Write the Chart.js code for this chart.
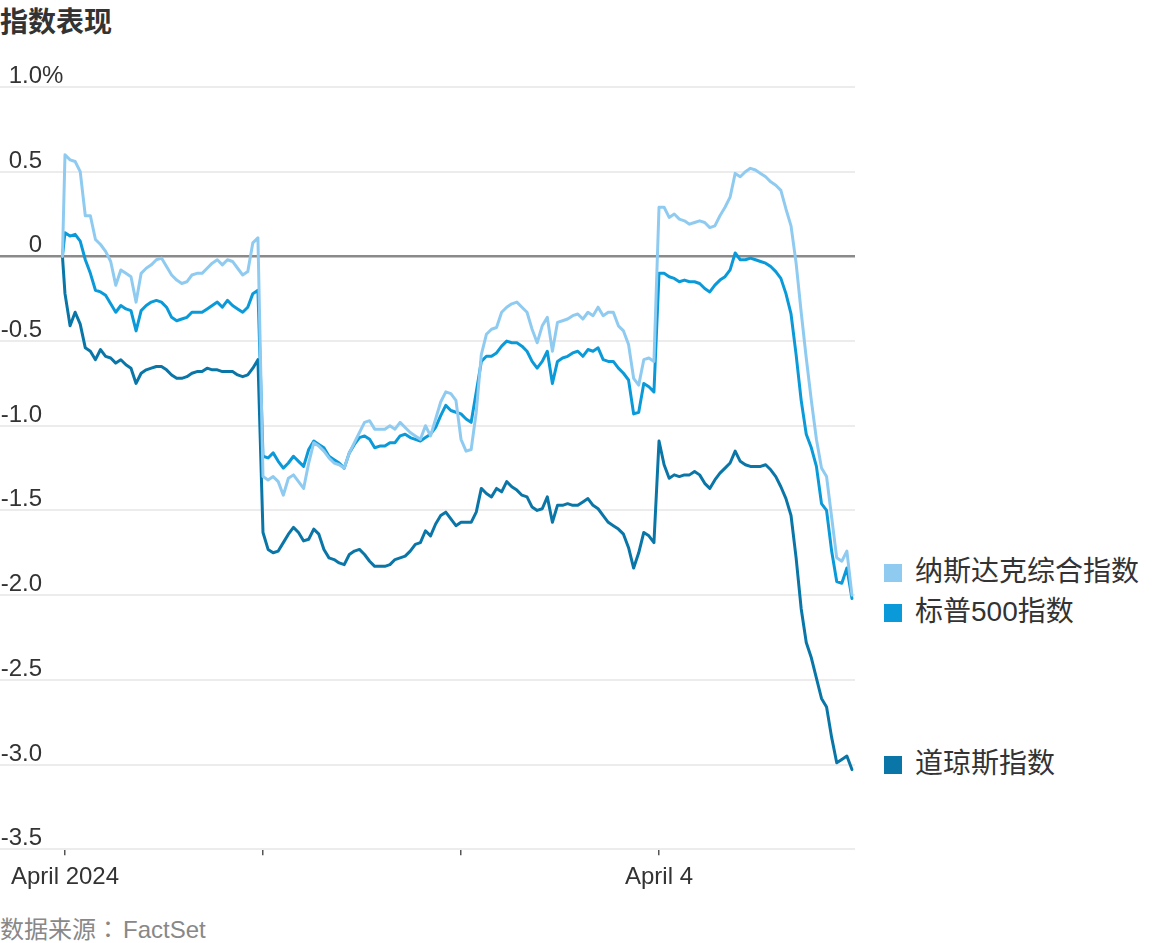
<!DOCTYPE html>
<html>
<head>
<meta charset="utf-8">
<script src="https://cdn.jsdelivr.net/npm/chart.js@4"></script>
<style>
  body { margin: 0; background: #fff; }
  #wrap { position: relative; width: 1170px; height: 943px; overflow: hidden; }
  .title { position: absolute; left: 0; top: 6px; margin: 0; font: bold 28px/1 "Noto Sans CJK SC", sans-serif; color: #333; }
  #chart { position: absolute; left: 0; top: 60px; }
  .legend { position: absolute; left: 884px; font: 28px/1 "Liberation Sans", "Noto Sans CJK SC", sans-serif; color: #333; white-space: nowrap; }
  .legend i { display: inline-block; width: 18px; height: 18px; margin-right: 13px; vertical-align: -1px; }
  .source { position: absolute; left: 0; top: 916px; font: 24px/1 "Liberation Sans", "Noto Sans CJK SC", sans-serif; color: #888; }
  .source span { font-family: "Noto Sans CJK JP", sans-serif; margin-right: 3px; }
</style>
</head>
<body>
<div id="wrap">
  <div class="title">指数表现</div>
  <canvas id="chart" width="856" height="850"></canvas>
  <div id="legend"></div>
  <div class="source">数据来源<span>：</span>FactSet</div>
</div>
<script>
// trading minutes from the April 1 open, one point every 10 minutes, days glued together
const stepMinutes = 10;
const pointsPerDay = 39;
const tradingDays = 4;
const xTickValues = [0, 390, 780, 1170];
const xTickLabels = ['April 2024', '', '', 'April 4'];

const seriesNames = ['纳斯达克综合指数', '标普500指数', '道琼斯指数'];
const seriesColors = ['#8fcbf0', '#0b9ad9', '#0a76a8'];
const legendTops = [558, 598, 750];

// % change vs previous close; first value is the previous close
const nasdaq = [0,
  0.60, 0.57, 0.56, 0.50, 0.24, 0.24, 0.10, 0.07, 0.03, -0.03, -0.17, -0.08, -0.10, -0.12, -0.27, -0.10, -0.07, -0.05, -0.02, -0.01,
  -0.06, -0.11, -0.14, -0.16, -0.15, -0.11, -0.10, -0.10, -0.07, -0.04, -0.02, -0.05, -0.02, -0.03, -0.07, -0.11, -0.09, 0.08, 0.11,
  -1.30, -1.32, -1.30, -1.33, -1.41, -1.31, -1.29, -1.33, -1.37, -1.22, -1.10, -1.12, -1.15, -1.19, -1.22, -1.23, -1.25, -1.16, -1.10, -1.04,
  -0.98, -0.97, -1.02, -1.02, -1.02, -1.00, -1.02, -0.98, -1.01, -1.04, -1.06, -1.08, -1.00, -1.06, -0.96, -0.86, -0.80, -0.81, -0.85,
  -1.08, -1.15, -1.14, -0.92, -0.58, -0.46, -0.43, -0.42, -0.33, -0.30, -0.28, -0.27, -0.30, -0.33, -0.43, -0.51, -0.41, -0.36, -0.56, -0.39,
  -0.38, -0.37, -0.35, -0.34, -0.37, -0.33, -0.35, -0.30, -0.35, -0.33, -0.33, -0.41, -0.44, -0.52, -0.72, -0.76, -0.61, -0.60, -0.62,
  0.29, 0.29, 0.23, 0.25, 0.22, 0.21, 0.19, 0.20, 0.21, 0.20, 0.17, 0.18, 0.24, 0.29, 0.35, 0.49, 0.47, 0.50, 0.52, 0.51,
  0.49, 0.47, 0.44, 0.42, 0.39, 0.28, 0.18, -0.04, -0.33, -0.60, -0.85, -1.08, -1.25, -1.30, -1.54, -1.78, -1.80, -1.74, -2.00
];

const sp500 = [0,
  0.14, 0.12, 0.13, 0.09, -0.02, -0.10, -0.20, -0.21, -0.23, -0.28, -0.33, -0.29, -0.31, -0.32, -0.44, -0.32, -0.29, -0.27, -0.26, -0.27,
  -0.30, -0.36, -0.38, -0.37, -0.36, -0.33, -0.33, -0.33, -0.31, -0.29, -0.27, -0.30, -0.26, -0.29, -0.31, -0.33, -0.30, -0.22, -0.20,
  -1.18, -1.19, -1.16, -1.21, -1.25, -1.22, -1.18, -1.21, -1.24, -1.14, -1.09, -1.11, -1.13, -1.18, -1.20, -1.22, -1.25, -1.16, -1.11, -1.07,
  -1.06, -1.08, -1.13, -1.12, -1.12, -1.10, -1.10, -1.06, -1.05, -1.07, -1.08, -1.09, -1.07, -1.05, -1.01, -0.94, -0.88, -0.91, -0.92,
  -0.93, -0.96, -0.98, -0.80, -0.62, -0.59, -0.59, -0.57, -0.53, -0.50, -0.51, -0.51, -0.53, -0.56, -0.62, -0.66, -0.62, -0.56, -0.75, -0.62,
  -0.60, -0.59, -0.57, -0.56, -0.59, -0.55, -0.56, -0.54, -0.61, -0.62, -0.62, -0.66, -0.69, -0.73, -0.93, -0.92, -0.75, -0.77, -0.80,
  -0.10, -0.10, -0.12, -0.13, -0.15, -0.14, -0.15, -0.15, -0.16, -0.19, -0.21, -0.17, -0.14, -0.12, -0.08, 0.02, -0.02, -0.02, -0.01, -0.02,
  -0.03, -0.04, -0.06, -0.09, -0.13, -0.22, -0.34, -0.58, -0.85, -1.05, -1.13, -1.24, -1.46, -1.50, -1.74, -1.92, -1.93, -1.84, -2.02
];

const dow = [0,
  -0.22, -0.41, -0.33, -0.40, -0.54, -0.56, -0.61, -0.55, -0.59, -0.60, -0.63, -0.61, -0.64, -0.66, -0.75, -0.69, -0.67, -0.66, -0.65, -0.65,
  -0.67, -0.70, -0.72, -0.72, -0.71, -0.69, -0.68, -0.68, -0.66, -0.67, -0.67, -0.68, -0.68, -0.68, -0.70, -0.71, -0.70, -0.66, -0.61,
  -1.63, -1.73, -1.75, -1.74, -1.69, -1.64, -1.60, -1.63, -1.68, -1.67, -1.61, -1.64, -1.73, -1.78, -1.79, -1.81, -1.82, -1.76, -1.74, -1.73,
  -1.76, -1.80, -1.83, -1.83, -1.83, -1.82, -1.79, -1.78, -1.77, -1.74, -1.70, -1.69, -1.62, -1.65, -1.58, -1.53, -1.51, -1.55, -1.59,
  -1.57, -1.57, -1.57, -1.51, -1.37, -1.40, -1.42, -1.37, -1.39, -1.33, -1.36, -1.38, -1.41, -1.42, -1.48, -1.50, -1.49, -1.42, -1.57, -1.47,
  -1.47, -1.46, -1.47, -1.47, -1.45, -1.43, -1.47, -1.49, -1.53, -1.57, -1.59, -1.61, -1.64, -1.72, -1.84, -1.75, -1.63, -1.65, -1.69,
  -1.09, -1.23, -1.31, -1.29, -1.30, -1.29, -1.29, -1.27, -1.29, -1.34, -1.37, -1.32, -1.28, -1.25, -1.22, -1.15, -1.21, -1.23, -1.24, -1.24,
  -1.24, -1.23, -1.26, -1.30, -1.36, -1.43, -1.53, -1.78, -2.08, -2.28, -2.37, -2.49, -2.61, -2.66, -2.84, -2.99, -2.97, -2.95, -3.03
];

// x positions: previous close just before the open, then every 10 minutes
const times = [-5];
for (let i = 0; i < pointsPerDay * tradingDays; i++) times.push(i * stepMinutes);

const toPoints = vals => vals.map((v, i) => ({ x: times[i], y: v }));

// legend on the right
const legend = document.getElementById('legend');
seriesNames.forEach((name, i) => {
  const item = document.createElement('div');
  item.className = 'legend';
  item.style.top = legendTops[i] + 'px';
  item.innerHTML = `<i style="background:${seriesColors[i]}"></i>${name}`;
  legend.appendChild(item);
});

// y labels sit above the grid lines at the left edge
const yLabels = {
  id: 'yLabels',
  afterDraw(chart) {
    const { ctx, scales: { y } } = chart;
    ctx.save();
    ctx.font = '24px "Liberation Sans", sans-serif';
    ctx.fillStyle = '#333';
    ctx.textBaseline = 'alphabetic';
    y.ticks.forEach(t => {
      const py = y.getPixelForValue(t.value);
      const zero = Math.abs(t.value) < 1e-9;
      ctx.textAlign = 'right';
      ctx.fillText(zero ? '0' : t.value.toFixed(1), 42, py - 4);
      if (Math.abs(t.value - y.max) < 1e-9) {
        ctx.textAlign = 'left';
        ctx.fillText('%', 42, py - 4);
      }
    });
    ctx.restore();
  }
};

new Chart(document.getElementById('chart'), {
  type: 'line',
  data: {
    datasets: [
      { label: seriesNames[0], data: toPoints(nasdaq), borderColor: seriesColors[0] },
      { label: seriesNames[1], data: toPoints(sp500), borderColor: seriesColors[1] },
      { label: seriesNames[2], data: toPoints(dow), borderColor: seriesColors[2] }
    ]
  },
  options: {
    responsive: false,
    animation: false,
    devicePixelRatio: 1,
    layout: { padding: { top: 27, bottom: 10, left: 0, right: 1 } },
    elements: {
      line: { borderWidth: 3, tension: 0, borderJoinStyle: 'round', borderCapStyle: 'round' },
      point: { radius: 0 }
    },
    plugins: { legend: { display: false }, tooltip: { enabled: false } },
    scales: {
      x: {
        type: 'linear',
        min: -128,
        max: 1556,
        afterBuildTicks: scale => { scale.ticks = xTickValues.map(v => ({ value: v })); },
        ticks: {
          autoSkip: false,
          maxRotation: 0,
          padding: 8,
          color: '#333',
          font: { family: '"Liberation Sans", sans-serif', size: 24 },
          callback: (v, i) => xTickLabels[i]
        },
        grid: { drawOnChartArea: false, drawTicks: true, tickLength: 6, color: '#555', lineWidth: 1.5 },
        border: { display: false }
      },
      y: {
        min: -3.5,
        max: 1.0,
        ticks: { display: false, stepSize: 0.5 },
        grid: {
          drawTicks: false,
          color: c => Math.abs(c.tick.value) < 1e-9 ? '#8a8a8a' : '#ececec',
          lineWidth: c => Math.abs(c.tick.value) < 1e-9 ? 2.5 : 2
        },
        border: { display: false }
      }
    }
  },
  plugins: [yLabels]
});
</script>
</body>
</html>
